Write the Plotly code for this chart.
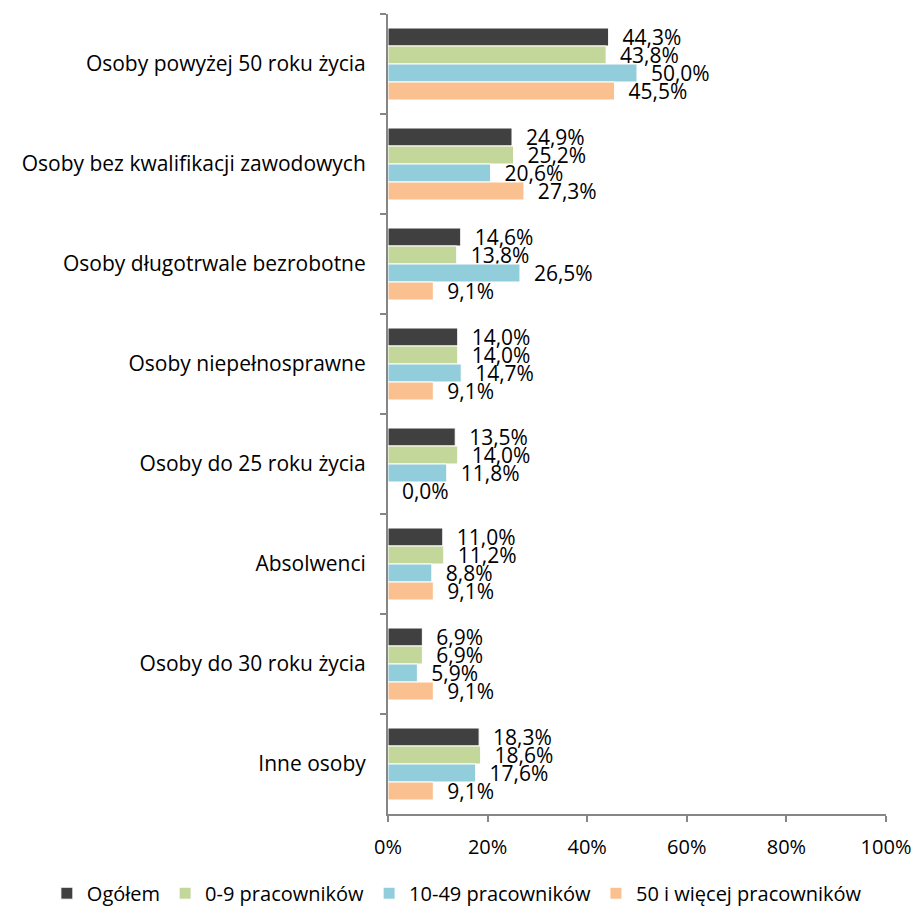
import plotly.graph_objects as go

categories = [
    "Osoby powyżej 50 roku życia",
    "Osoby bez kwalifikacji zawodowych",
    "Osoby długotrwale bezrobotne",
    "Osoby niepełnosprawne",
    "Osoby do 25 roku życia",
    "Absolwenci",
    "Osoby do 30 roku życia",
    "Inne osoby",
]
series_names = ["Ogółem", "0-9 pracowników", "10-49 pracowników", "50 i więcej pracowników"]
ogolem = [44.3, 24.9, 14.6, 14.0, 13.5, 11.0, 6.9, 18.3]
male = [43.8, 25.2, 13.8, 14.0, 14.0, 11.2, 6.9, 18.6]
srednie = [50.0, 20.6, 26.5, 14.7, 11.8, 8.8, 5.9, 17.6]
duze = [45.5, 27.3, 9.1, 9.1, 0.0, 9.1, 9.1, 9.1]
x_ticks = [0, 20, 40, 60, 80, 100]
x_tick_labels = ["0%", "20%", "40%", "60%", "80%", "100%"]

colors = ["#404040", "#C4D79B", "#92CDDC", "#FAC090"]
FONT = "Open Sans"

fig = go.Figure()
for name, vals, col in zip(series_names, [ogolem, male, srednie, duze], colors):
    fig.add_trace(go.Bar(
        y=categories, x=vals, name=name, orientation="h",
        marker=dict(color=col, line=dict(color="white", width=1)),
        text=["\u00a0\u00a0" + f"{v:.1f}".replace(".", ",") + "%" for v in vals],
        textposition="outside", constraintext="none", cliponaxis=False,
        textfont=dict(family=FONT, size=21, color="#000000"),
        hoverinfo="skip",
    ))

fig.update_layout(
    width=915, height=909,
    margin=dict(l=388, r=29, t=14, b=95, autoexpand=False),
    barmode="group", bargap=0.28, bargroupgap=0.0,
    plot_bgcolor="white", paper_bgcolor="white",
    font=dict(family=FONT, size=20, color="#000000"),
    showlegend=True,
    legend=dict(orientation="h", x=-0.685, xanchor="left", y=-0.099, yanchor="middle",
                bgcolor="rgba(0,0,0,0)",
                font=dict(family=FONT, size=20), traceorder="normal",
                itemwidth=30, tracegroupgap=0),
    xaxis=dict(range=[0, 100], tickvals=x_ticks, ticktext=x_tick_labels, showgrid=False,
               zeroline=False, showline=True, linecolor="#868686", linewidth=2,
               ticks="outside", ticklen=6, tickcolor="#868686", tickwidth=2,
               ticklabelstandoff=8, automargin=False,
               tickfont=dict(family=FONT, size=20)),
    yaxis=dict(autorange="reversed", showgrid=False, showline=True, linecolor="#868686",
               linewidth=2, ticks="outside", ticklen=6, tickcolor="#868686", tickwidth=2,
               tickson="boundaries", ticklabelstandoff=16, automargin=False,
               tickfont=dict(family=FONT, size=21)),
)

fig.write_html("out.html")
